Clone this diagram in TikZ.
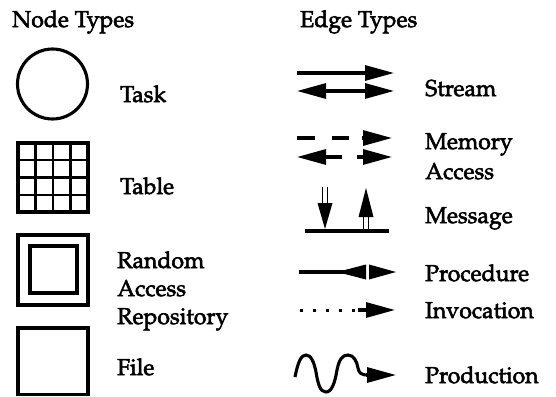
\documentclass[tikz,border=0pt]{standalone}
\usepackage[T1]{fontenc}
\usepackage{mathpazo}
\usetikzlibrary{arrows.meta}
\newcommand{\heavytext}[1]{\special{pdf:code q 2 Tr 0.55 w}#1\special{pdf:code Q}}
\tikzset{
  lbl/.style={anchor=base west, inner sep=0pt, font=\fontsize{23}{28}\selectfont},
  sym/.style={line width=3.1pt},
  thin/.style={line width=2.3pt},
  tri/.style={-{Triangle[length=29pt,width=15pt]}},
  tribi/.style={{Triangle[length=29pt,width=15pt]}-{Triangle[length=29pt,width=15pt]}},
}
\begin{document}
\begin{tikzpicture}[x=1pt,y=-1pt]
\useasboundingbox (0,0) rectangle (556,396);
% headings
\node[lbl] (nt) at (12,27) {\heavytext{Node Types}};
\node[lbl] (et) at (300,27) {\heavytext{Edge Types}};
% Task
\draw[sym] (52.5,84) circle (35);
\node[lbl] (task) at (120,102) {\heavytext{Task}};
% Table
\foreach \x in {35.5,53,70.5} \draw[thin] (\x,143) -- (\x,212);
\foreach \y in {160.25,177.5,194.75} \draw[thin] (18,\y) -- (88,\y);
\draw[sym] (18,143) rectangle (88,212);
\node[lbl] (table) at (120,194) {\heavytext{Table}};
% Random access repository
\draw[sym] (18,235) rectangle (88,305);
\draw[sym] (30,246) rectangle (77,293);
\node[lbl] (rar1) at (117,268) {\heavytext{Random}};
\node[lbl] (rar2) at (117,296) {\heavytext{Access}};
\node[lbl] (rar3) at (117,324) {\heavytext{Repository}};
% File
\draw[sym] (18,328) rectangle (88,394.5);
\node[lbl] (file) at (117,375) {\heavytext{File}};
% Stream
\draw[sym,tri] (297,73) -- (394,73);
\draw[sym,tribi] (297,91) -- (394,91);
\node[lbl] (stream) at (425,96) {\heavytext{Stream}};
% Memory access
\draw[sym] (297,138) -- (315,138);
\draw[sym] (332,138) -- (349,138);
\draw[sym,tri] (362,138) -- (392,138);
\draw[sym,tri] (342,157) -- (297,157);
\draw[sym,tri] (357,157) -- (392,157);
\node[lbl] (mem1) at (425,149) {\heavytext{Memory}};
\node[lbl] (mem2) at (425,179) {\heavytext{Access}};
% Message
\draw[sym] (305,231) -- (389,231);
\draw[line width=1.5pt] (322.5,187) -- (322.5,205) (327.5,187) -- (327.5,205);
\fill (317.5,203) -- (332.5,203) -- (325,229) -- cycle;
\draw[line width=1.5pt] (363.5,215) -- (363.5,231) (368.5,215) -- (368.5,231);
\fill (358.5,217) -- (373.5,217) -- (366,188) -- cycle;
\node[lbl] (msg) at (425,223) {\heavytext{Message}};
% Procedure
\draw[sym] (299,272) -- (366,272);
\fill (337,272) -- (366,264.5) -- (366,279.5) -- cycle;
\fill (369,264.5) -- (369,279.5) -- (396,272) -- cycle;
\node[lbl] (proc) at (425,281) {\heavytext{Procedure}};
% Invocation
\draw[line width=3pt,dash pattern=on 2.8pt off 10.2pt] (300,310) -- (360,310);
\draw[sym,tri] (358,310) -- (395,310);
\node[lbl] (inv) at (425,318) {\heavytext{Invocation}};
% Production
\draw[sym] (295,377) .. controls (298,362) and (301,355) .. (306,355)
  .. controls (311,355) and (314,362) .. (316,372)
  .. controls (318,384) and (320,392) .. (326,392)
  .. controls (332,392) and (335,382) .. (337,370)
  .. controls (339,360) and (342,355) .. (348,355)
  .. controls (354,355) and (357,362) .. (358,368)
  .. controls (359,373) and (361,375) .. (368,375);
\draw[sym,tri] (366,375) -- (396,375);
\node[lbl] (prod) at (425,383) {\heavytext{Production}};
\end{tikzpicture}
\end{document}
